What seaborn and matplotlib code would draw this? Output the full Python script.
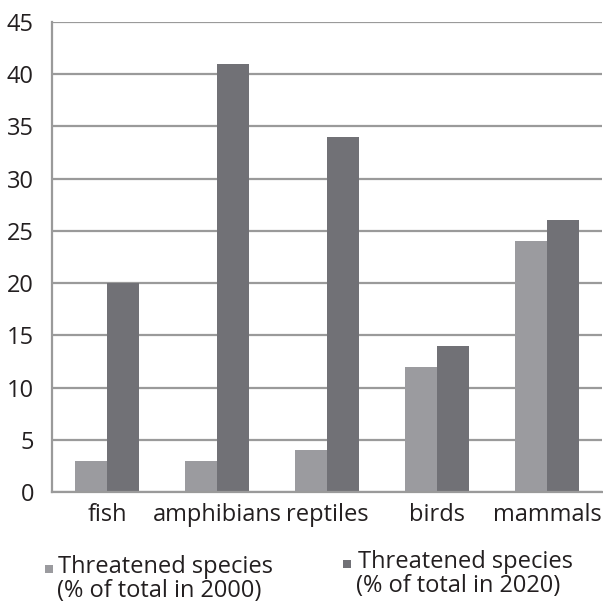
import matplotlib
matplotlib.use("Agg")
import matplotlib.pyplot as plt
import seaborn as sns
import pandas as pd
from matplotlib.patches import Rectangle

categories = ["fish", "amphibians", "reptiles", "birds", "mammals"]
threatened_2000 = [3, 3, 4, 12, 24]
threatened_2020 = [20, 41, 34, 14, 26]
label_title = "Threatened species"
label_2000 = "(% of total in 2000)"
label_2020 = "(% of total in 2020)"
y_ticks = [0, 5, 10, 15, 20, 25, 30, 35, 40, 45]

light_grey = "#9b9b9f"
dark_grey = "#717176"
axis_grey = "#9a9a9a"
text_color = "#231f20"

W, H = 603, 604

sns.set_theme(style="white")
plt.rcParams["font.family"] = ["Open Sans", "DejaVu Sans"]

df = pd.DataFrame({
    "category": categories * 2,
    "value": threatened_2000 + threatened_2020,
    "series": ["2000"] * len(categories) + ["2020"] * len(categories),
})

fig = plt.figure(figsize=(W / 100, H / 100), dpi=100)
ax = fig.add_axes([52 / W, 1 - 492 / H, 550 / W, 470 / H])

sns.barplot(data=df, x="category", y="value", hue="series", order=categories,
            hue_order=["2000", "2020"], palette=[light_grey, dark_grey],
            width=0.58, gap=0, saturation=1, linewidth=0, legend=False, ax=ax)

ax.set_xlim(-0.5, len(categories) - 0.5)
ax.set_ylim(0, 45)
ax.set_yticks(y_ticks)
ax.set_xlabel("")
ax.set_ylabel("")

ax.yaxis.grid(True, color=axis_grey, linewidth=1.6)
ax.set_axisbelow(True)
for side in ["top", "right"]:
    ax.spines[side].set_visible(False)
for side in ["left", "bottom"]:
    ax.spines[side].set_color(axis_grey)
    ax.spines[side].set_linewidth(1.6)

ax.tick_params(axis="y", which="major", length=5, width=1.6, color=axis_grey,
               labelsize=17, labelcolor=text_color, pad=8)
ax.tick_params(axis="x", which="major", length=0, labelsize=17,
               labelcolor=text_color, pad=8)
ax.set_xticks([i - 0.5 for i in range(len(categories) + 1)], minor=True)
ax.tick_params(axis="x", which="minor", length=5, width=1.6, color=axis_grey)

# Legend: square swatch beside the first line, second line centred below
legend_items = [
    # colour, swatch (x, y top), line 1 left/baseline, line 2 centre/baseline, text
    (light_grey, (45, 565), (58, 573), (159, 597), label_2000),
    (dark_grey, (343, 560), (358, 568), (458, 592), label_2020),
]
for color, (sx, sy), (x1, y1), (x2, y2), line2 in legend_items:
    fig.patches.append(Rectangle((sx / W, 1 - (sy + 8) / H), 8 / W, 8 / H,
                                 transform=fig.transFigure,
                                 facecolor=color, edgecolor="none"))
    fig.text(x1 / W, 1 - y1 / H, label_title, ha="left", va="baseline",
             fontsize=17, color=text_color)
    fig.text(x2 / W, 1 - y2 / H, line2, ha="center", va="baseline",
             fontsize=17, color=text_color)

fig.savefig("out.png", dpi=100)
